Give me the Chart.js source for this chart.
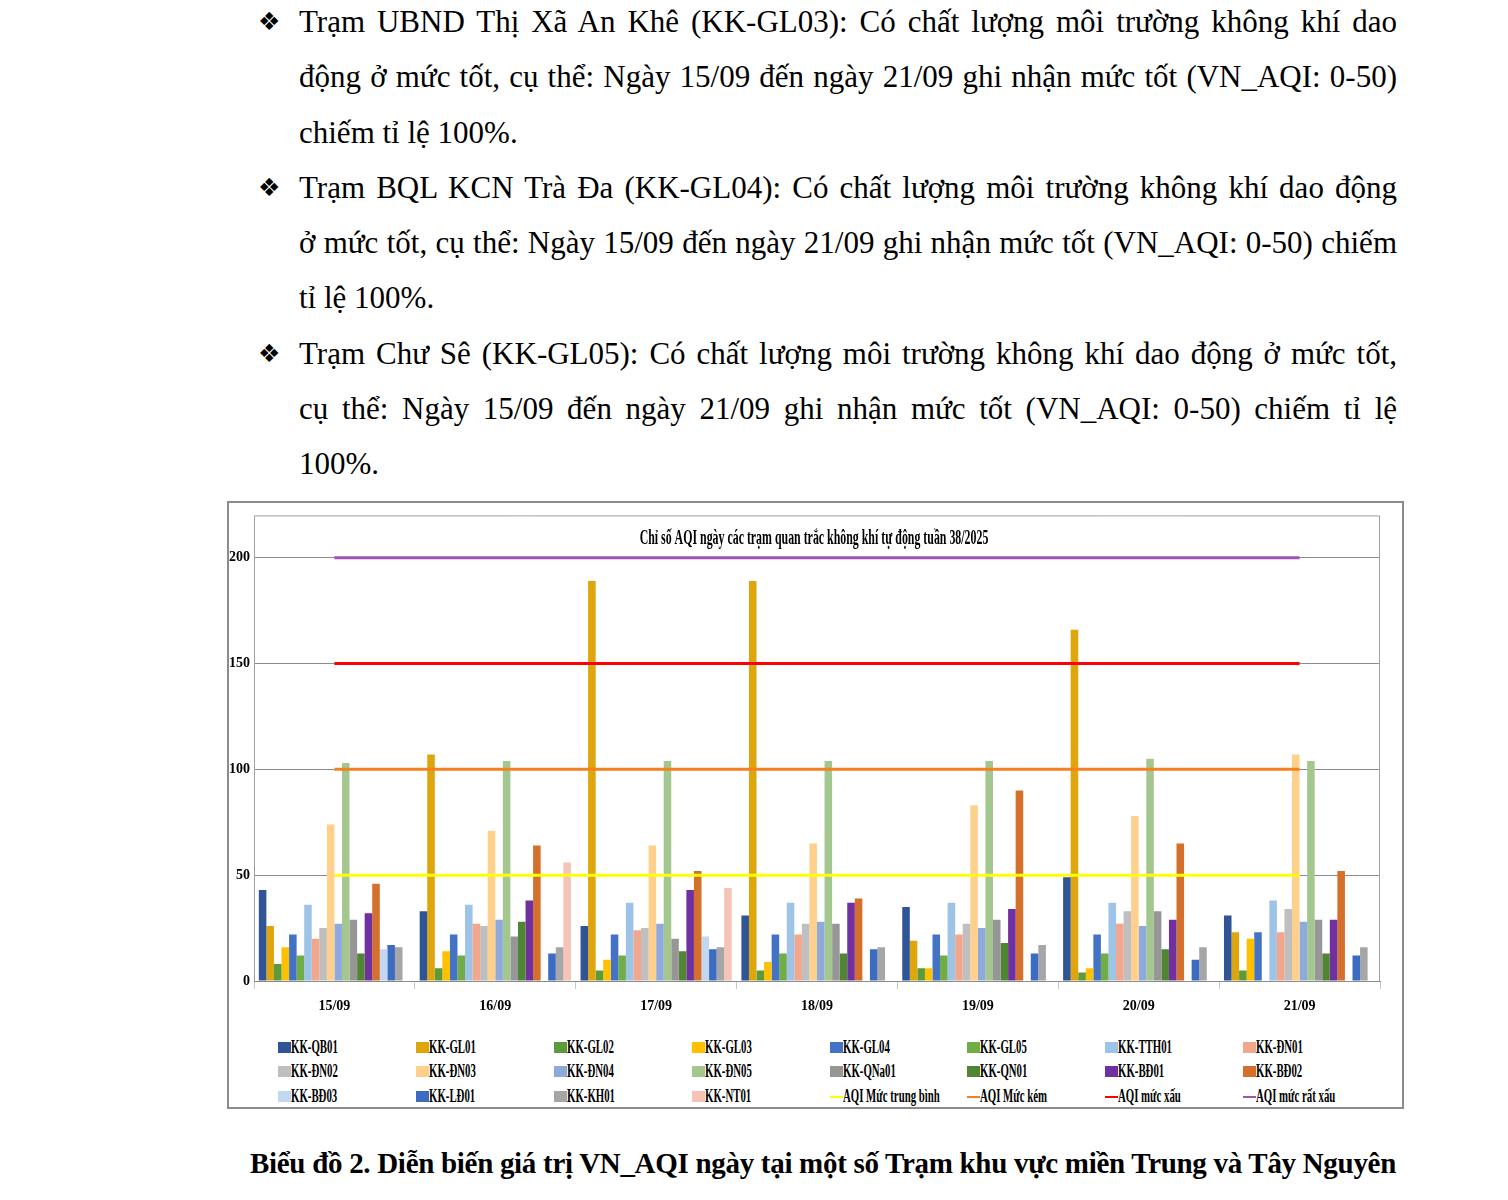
<!DOCTYPE html>
<html lang="vi">

<head>
   <meta charset="UTF-8">
   <title>Biểu đồ 2 - VN_AQI</title>
   <style>
      html, body {
         margin: 0;
         padding: 0;
         background: #fff;
         width: 1508px;
         height: 1200px;
         overflow: hidden;
         position: relative;
         font-family: 'Liberation Serif', 'Times New Roman', serif;
         color: #000;
      }

      #text {
         position: absolute;
         left: 258px;
         top: -6px;
         width: 1139px;
         font-size: 31px;
         line-height: 55.3px;
      }

      .para {
         position: relative;
      }

      .bullet {
         position: absolute;
         left: 0;
         top: 0;
         font-family: 'DejaVu Sans', sans-serif;
         font-size: 25px;
      }

      .ln {
         display: block;
         margin-left: 41px;
         text-align: justify;
         text-align-last: justify;
      }

      .ln.last {
         text-align-last: left;
      }

      #frame {
         position: absolute;
         left: 227px;
         top: 501px;
         width: 1177px;
         height: 608px;
         box-sizing: border-box;
         border: 2px solid #8c8c8c;
      }

      #chartBox {
         position: absolute;
         left: 229px;
         top: 503px;
         width: 1173px;
         height: 520px;
      }

      #legend {
         position: absolute;
         left: 278px;
         top: 1035px;
         display: grid;
         grid-template-columns: repeat(8, 137.9px);
         grid-auto-rows: 24.5px;
      }

      .item {
         display: flex;
         align-items: center;
         white-space: nowrap;
      }

      .swatch {
         width: 13px;
         height: 11px;
         flex: none;
      }

      .swatch.line {
         height: 2px;
         margin-top: 1px;
      }

      .lab {
         display: inline-block;
         font-weight: bold;
         font-size: 18px;
         transform: scaleX(0.6);
         transform-origin: left center;
      }

      #caption {
         position: absolute;
         left: 250px;
         top: 1145px;
         font-weight: bold;
         font-size: 29px;
         line-height: 36px;
         letter-spacing: -0.3px;
         white-space: nowrap;
      }
   </style>
</head>

<body>
   <div id="text">
      <div class="para"><span class="bullet">❖</span>
         <span class="ln">Trạm UBND Thị Xã An Khê (KK-GL03): Có chất lượng môi trường không khí dao</span>
         <span class="ln">động ở mức tốt, cụ thể: Ngày 15/09 đến ngày 21/09 ghi nhận mức tốt (VN_AQI: 0-50)</span>
         <span class="ln last">chiếm tỉ lệ 100%.</span>
      </div>
      <div class="para"><span class="bullet">❖</span>
         <span class="ln">Trạm BQL KCN Trà Đa (KK-GL04): Có chất lượng môi trường không khí dao động</span>
         <span class="ln">ở mức tốt, cụ thể: Ngày 15/09 đến ngày 21/09 ghi nhận mức tốt (VN_AQI: 0-50) chiếm</span>
         <span class="ln last">tỉ lệ 100%.</span>
      </div>
      <div class="para"><span class="bullet">❖</span>
         <span class="ln">Trạm Chư Sê (KK-GL05): Có chất lượng môi trường không khí dao động ở mức tốt,</span>
         <span class="ln">cụ thể: Ngày 15/09 đến ngày 21/09 ghi nhận mức tốt (VN_AQI: 0-50) chiếm tỉ lệ</span>
         <span class="ln last">100%.</span>
      </div>
   </div>

   <div id="frame"></div>
   <div id="chartBox"><canvas id="aqiChart"></canvas></div>
   <div id="legend"></div>

   <div id="caption">Biểu đồ 2. Diễn biến giá trị VN_AQI ngày tại một số Trạm khu vực miền Trung và Tây Nguyên</div>

   <script src="https://cdn.jsdelivr.net/npm/chart.js@4.4.0/dist/chart.umd.min.js"></script>
   <script>
      // days on the x axis
      var days = ['15/09', '16/09', '17/09', '18/09', '19/09', '20/09', '21/09'];

      // station names, same order as the legend
      var stations = ['KK-QB01', 'KK-GL01', 'KK-GL02', 'KK-GL03', 'KK-GL04', 'KK-GL05', 'KK-TTH01', 'KK-ĐN01',
         'KK-ĐN02', 'KK-ĐN03', 'KK-ĐN04', 'KK-ĐN05', 'KK-QNa01', 'KK-QN01', 'KK-BĐ01', 'KK-BĐ02',
         'KK-BĐ03', 'KK-LĐ01', 'KK-KH01', 'KK-NT01'];

      // daily VN_AQI per station (null = no data)
      var qb01 = [43, 33, 26, 31, 35, 49, 31];
      var gl01 = [26, 107, 189, 189, 19, 166, 23];
      var gl02 = [8, 6, 5, 5, 6, 4, 5];
      var gl03 = [16, 14, 10, 9, 6, 6, 20];
      var gl04 = [22, 22, 22, 22, 22, 22, 23];
      var gl05 = [12, 12, 12, 13, 12, 13, null];
      var tth01 = [36, 36, 37, 37, 37, 37, 38];
      var dn01 = [20, 27, 24, 22, 22, 27, 23];
      var dn02 = [25, 26, 25, 27, 27, 33, 34];
      var dn03 = [74, 71, 64, 65, 83, 78, 107];
      var dn04 = [27, 29, 27, 28, 25, 26, 28];
      var dn05 = [103, 104, 104, 104, 104, 105, 104];
      var qna01 = [29, 21, 20, 27, 29, 33, 29];
      var qn01 = [13, 28, 14, 13, 18, 15, 13];
      var bd01 = [32, 38, 43, 37, 34, 29, 29];
      var bd02 = [46, 64, 52, 39, 90, 65, 52];
      var bd03 = [15, null, 21, null, null, null, null];
      var ld01 = [17, 13, 15, 15, 13, 10, 12];
      var kh01 = [16, 16, 16, 16, 17, 16, 16];
      var nt01 = [null, 56, 44, null, null, null, null];

      // AQI threshold lines
      var levelNames = ['AQI Mức trung bình', 'AQI Mức kém', 'AQI mức xấu', 'AQI mức rất xấu'];
      var levelMedium = [50, 50, 50, 50, 50, 50, 50];
      var levelPoor = [100, 100, 100, 100, 100, 100, 100];
      var levelBad = [150, 150, 150, 150, 150, 150, 150];
      var levelVeryBad = [200, 200, 200, 200, 200, 200, 200];

      var stationValues = [qb01, gl01, gl02, gl03, gl04, gl05, tth01, dn01, dn02, dn03, dn04, dn05,
         qna01, qn01, bd01, bd02, bd03, ld01, kh01, nt01];

      var stationColors = ['#2F5597', '#DEA50C', '#5B9B3B', '#FFC000', '#4472C4', '#70AD47', '#9DC3E6', '#F2A68B',
         '#BFBFBF', '#FFD08C', '#8EA9DB', '#A3C78F', '#969696', '#4F8533', '#7030A0', '#D4702C',
         '#C3D8F0', '#3C6BC2', '#A6A6A6', '#F6C4B6'];

      var levelColors = ['#FFFF00', '#F4811F', '#FF0000', '#A052B0'];
      var levelValues = [levelMedium, levelPoor, levelBad, levelVeryBad];

      var datasets = [];
      stations.forEach(function (name, i) {
         datasets.push({
            type: 'bar',
            label: name,
            data: stationValues[i],
            backgroundColor: stationColors[i],
            borderWidth: 0,
            barPercentage: 1,
            categoryPercentage: 0.94,
            order: 1
         });
      });
      levelNames.forEach(function (name, i) {
         datasets.push({
            type: 'line',
            label: name,
            data: levelValues[i],
            borderColor: levelColors[i],
            backgroundColor: levelColors[i],
            borderWidth: 3,
            pointRadius: 0,
            fill: false,
            order: 0
         });
      });

      // plot box outline + title drawn inside the plot area (like the Excel chart)
      var plotBox = {
         id: 'plotBox',
         afterDraw: function (chart) {
            var a = chart.chartArea;
            var c = chart.ctx;
            c.save();
            c.strokeStyle = '#a0a0a0';
            c.lineWidth = 1;
            c.beginPath();
            c.moveTo(a.left + 0.5, a.bottom);
            c.lineTo(a.left + 0.5, a.top + 0.5);
            c.lineTo(a.right - 0.5, a.top + 0.5);
            c.lineTo(a.right - 0.5, a.bottom);
            c.stroke();

            c.translate((a.left + a.right) / 2 - 3, a.top + 23);
            c.scale(0.594, 1);
            c.fillStyle = '#000';
            c.font = 'bold 20px "Liberation Serif"';
            c.textAlign = 'center';
            c.textBaseline = 'middle';
            c.fillText('Chỉ số AQI ngày các trạm quan trắc không khí tự động tuần 38/2025', 0, 0);
            c.restore();
         }
      };

      var ctx = document.getElementById('aqiChart').getContext('2d');
      var aqiChart = new Chart(ctx, {
         type: 'bar',
         data: {
            labels: days,
            datasets: datasets
         },
         options: {
            responsive: true,
            maintainAspectRatio: false,
            animation: false,
            layout: {
               padding: { top: 1, right: 22, left: 0, bottom: 0 }
            },
            plugins: {
               legend: { display: false },
               tooltip: { enabled: false },
               title: { display: false }
            },
            scales: {
               x: {
                  offset: true,
                  grid: {
                     offset: true,
                     drawOnChartArea: false,
                     drawTicks: true,
                     tickLength: 8,
                     color: '#c8c8c8'
                  },
                  border: { color: '#8c8c8c' },
                  ticks: {
                     color: '#000',
                     padding: 9,
                     font: { family: 'Liberation Serif', weight: 'bold', size: 14 }
                  },
                  afterFit: function (axis) { axis.height = 42; }
               },
               y: {
                  min: 0,
                  max: 220,
                  grid: { color: '#8c8c8c', drawTicks: false },
                  border: { display: false },
                  ticks: {
                     stepSize: 50,
                     includeBounds: false,
                     color: '#000',
                     padding: 4,
                     font: { family: 'Liberation Serif', weight: 'bold', size: 14 }
                  },
                  afterFit: function (axis) { axis.width = 25; }
               }
            }
         },
         plugins: [plotBox]
      });

      // legend grid, 8 columns like the original
      var legendEl = document.getElementById('legend');
      aqiChart.data.datasets.forEach(function (ds) {
         var item = document.createElement('div');
         item.className = 'item';
         var sw = document.createElement('span');
         sw.className = ds.type === 'line' ? 'swatch line' : 'swatch';
         sw.style.background = ds.type === 'line' ? ds.borderColor : ds.backgroundColor;
         var lab = document.createElement('span');
         lab.className = 'lab';
         lab.textContent = ds.label;
         item.appendChild(sw);
         item.appendChild(lab);
         legendEl.appendChild(item);
      });
   </script>
</body>

</html>
